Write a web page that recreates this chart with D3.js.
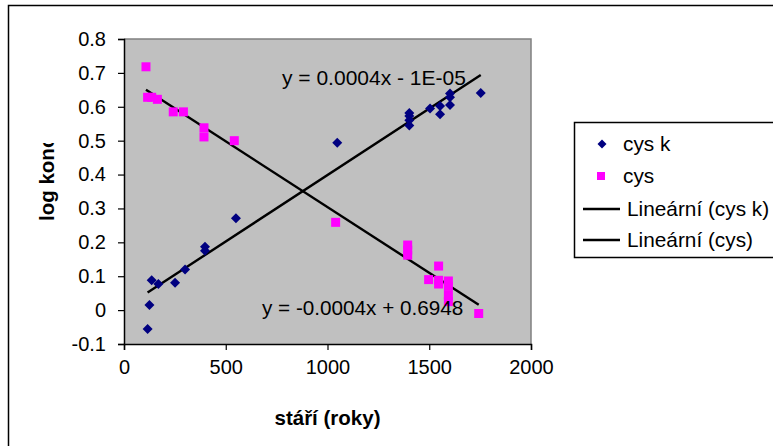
<!DOCTYPE html>
<html><head><meta charset="utf-8">
<script src="https://cdn.jsdelivr.net/npm/d3@7"></script>
<style>body{margin:0;background:#fff}svg{display:block}text{font-family:"Liberation Sans",Arial,sans-serif}</style>
</head><body>
<svg id="c" width="773" height="446"></svg>
<script>
// data
const cysKAge = [116,125,136,169,251,300,398,398,550,1048,1402,1402,1402,1402,1504,1553,1553,1602,1602,1602,1753];
const cysKLog = [-0.056,0.015,0.088,0.077,0.081,0.12,0.187,0.175,0.271,0.494,0.582,0.573,0.56,0.545,0.595,0.602,0.578,0.639,0.628,0.605,0.641];
const cysAge = [108,116,136,164,242,292,393,393,542,1040,1394,1394,1394,1546,1497,1546,1546,1594,1594,1594,1594,1743];
const cysLog = [0.718,0.628,0.628,0.622,0.585,0.585,0.538,0.511,0.5,0.259,0.192,0.177,0.162,0.13,0.09,0.088,0.077,0.086,0.07,0.044,0.025,-0.01];
const trendSlope = [0.000392, -0.000388];
const trendIntercept = [0.0065, 0.692];
const trendLabels = ["y = 0.0004x - 1E-05", "y = -0.0004x + 0.6948"];
const xTicks = [0,500,1000,1500,2000];
const yTicks = [-0.1,0,0.1,0.2,0.3,0.4,0.5,0.6,0.7,0.8];
const legendLabels = ["cys k","cys","Lineární (cys k)","Lineární (cys)"];
const xTitle = "stáří (roky)";
const yTitle = "log konc";

const svg = d3.select("#c");
const L=124,R=531,T=39,B=344;
const x = d3.scaleLinear().domain([0,2000]).range([L,R]);
const y = d3.scaleLinear().domain([-0.1,0.8]).range([B,T]);

// outer frame (top/left visible)
svg.append("path").attr("d",`M8.5,460V5.5H790`).attr("fill","none").attr("stroke","#000").attr("stroke-width",1.5);

// plot area
svg.append("rect").attr("x",L).attr("y",T).attr("width",R-L).attr("height",B-T).attr("fill","#c0c0c0");
svg.append("path").attr("d",`M${L},${T}H${R}V${B}`).attr("fill","none").attr("stroke","#808080").attr("stroke-width",1.5);

// axes
const fs = 20;
const xAxis = svg.append("g").attr("transform",`translate(0,${B})`)
  .call(d3.axisBottom(x).tickValues(xTicks).tickSize(6).tickPadding(10).tickFormat(d3.format("d")));
const yAxis = svg.append("g").attr("transform",`translate(${L},0)`)
  .call(d3.axisLeft(y).tickValues(yTicks).tickSize(6).tickPadding(12).tickFormat(d=>String(+d.toFixed(1))));
[xAxis,yAxis].forEach(g=>{
  g.select(".domain").attr("stroke","#000").attr("stroke-width",1.5);
  g.selectAll(".tick line").attr("stroke","#000").attr("stroke-width",1.2);
  g.selectAll("text").attr("font-size",fs).attr("font-family","Liberation Sans, Arial, sans-serif").attr("fill","#000");
});

// trendlines
const trendSeries = [[cysKAge,cysKLog],[cysAge,cysLog]];
trendSeries.forEach((s,i)=>{
  const [x0,x1] = d3.extent(s[0]);
  svg.append("line").attr("x1",x(x0)).attr("y1",y(trendSlope[i]*x0+trendIntercept[i]))
    .attr("x2",x(x1)).attr("y2",y(trendSlope[i]*x1+trendIntercept[i]))
    .attr("stroke","#000").attr("stroke-width",2.4);
});

// points
const diamond = (cx,cy,r)=>`M${cx},${cy-r}L${cx+r},${cy}L${cx},${cy+r}L${cx-r},${cy}Z`;
cysKAge.forEach((a,i)=>{
  svg.append("path").attr("d",diamond(x(a),y(cysKLog[i]),5)).attr("fill","#000080");
});
cysAge.forEach((a,i)=>{
  svg.append("rect").attr("x",x(a)-4.5).attr("y",y(cysLog[i])-4.5).attr("width",9).attr("height",9).attr("fill","#ff00ff");
});

// equations
svg.append("text").attr("x",282).attr("y",85).attr("font-size",21).text(trendLabels[0]);
svg.append("text").attr("x",262).attr("y",315).attr("font-size",20.7).text(trendLabels[1]);

// axis titles
svg.append("text").attr("x",(L+R)/2).attr("y",425).attr("text-anchor","middle").attr("font-size",20.5).attr("font-weight","bold").text(xTitle);
svg.append("clipPath").attr("id","yclip").append("rect").attr("x",0).attr("y",143).attr("width",120).attr("height",200);
svg.append("g").attr("clip-path","url(#yclip)").append("text")
  .attr("transform","translate(54,221) rotate(-90)").attr("font-size",20.5).attr("font-weight","bold").text(yTitle);

// legend
svg.append("path").attr("d","M790,122.5H574.5V257.5H790").attr("fill","none").attr("stroke","#000").attr("stroke-width",1.5);
const rowY = [144,176,209,240];
svg.append("path").attr("d",diamond(602,rowY[0],4.5)).attr("fill","#000080");
svg.append("rect").attr("x",597).attr("y",rowY[1]-4).attr("width",8).attr("height",8).attr("fill","#ff00ff");
[2,3].forEach(i=>svg.append("line").attr("x1",583).attr("x2",620).attr("y1",rowY[i]).attr("y2",rowY[i]).attr("stroke","#000").attr("stroke-width",2.4));
legendLabels.forEach((t,i)=>{
  svg.append("text").attr("x",i<2?623:627).attr("y",rowY[i]+7).attr("font-size",20.8).text(t);
});
</script>
</body></html>
